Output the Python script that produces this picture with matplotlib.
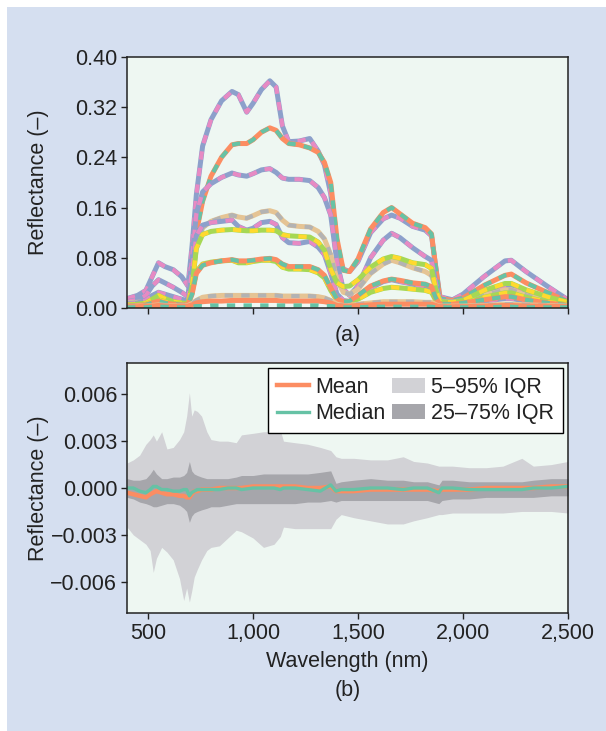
import matplotlib
matplotlib.use("Agg")
import matplotlib.pyplot as plt
from matplotlib.patches import Rectangle
from matplotlib.ticker import FuncFormatter

plt.rcParams['font.family'] = ['Liberation Sans', 'DejaVu Sans']

# --- (a) reflectance spectra: measured (solid) vs. reconstructed (dashed) ---
wl_a = [400, 450, 490, 520, 550, 580, 620, 660, 690, 710, 730, 760, 800, 850, 900, 930, 970,
        1000, 1040, 1080, 1110, 1140, 1170, 1220, 1270, 1310, 1340, 1370, 1400, 1430, 1460,
        1500, 1560, 1620, 1660, 1700, 1760, 1820, 1850, 1870, 1890, 1950, 2000, 2100, 2200,
        2230, 2300, 2400, 2500]

spec_1 = [.015, .020, .028, .050, .072, .066, .061, .050, .035, .100, .180, .258, .300, .330, .345, .340, .312,
          .326, .348, .362, .352, .290, .265, .266, .270, .250, .228, .182, .090, .062, .058,
          .074, .120, .142, .148, .143, .130, .124, .115, .066, .018, .013, .022, .050, .075,
          .076, .058, .035, .013]
spec_2 = [.005, .007, .010, .018, .024, .018, .013, .009, .008, .040, .120, .170, .210, .240, .260, .262, .262,
          .268, .280, .287, .283, .270, .262, .260, .255, .248, .232, .200, .110, .060, .058,
          .078, .126, .152, .160, .150, .135, .128, .118, .065, .015, .012, .016, .036, .052,
          .054, .040, .025, .010]
spec_3 = [.010, .013, .020, .035, .045, .040, .033, .025, .018, .080, .150, .185, .198, .208, .215, .212, .210,
          .214, .220, .222, .216, .207, .205, .205, .203, .192, .176, .148, .072, .030, .020,
          .035, .080, .108, .119, .112, .096, .082, .076, .040, .012, .010, .013, .026, .035,
          .035, .025, .015, .008]
spec_4 = [.008, .009, .010, .013, .016, .013, .011, .010, .010, .040, .095, .128, .138, .144, .148, .145, .143,
          .147, .153, .155, .152, .140, .132, .130, .129, .122, .110, .085, .045, .025, .022,
          .030, .055, .070, .076, .072, .064, .058, .052, .030, .010, .009, .011, .020, .029,
          .029, .020, .013, .007]
spec_5 = [.006, .008, .012, .020, .025, .022, .018, .014, .011, .060, .115, .132, .136, .138, .140, .130, .124,
          .127, .136, .138, .133, .112, .104, .103, .106, .097, .085, .055, .022, .012, .010,
          .017, .032, .042, .045, .042, .038, .034, .030, .015, .006, .006, .007, .011, .015,
          .015, .011, .007, .004]
spec_6 = [.005, .006, .008, .014, .020, .015, .010, .008, .007, .035, .095, .117, .122, .124, .125, .124, .123,
          .123, .124, .124, .123, .117, .115, .114, .113, .105, .092, .062, .040, .034, .035,
          .045, .065, .078, .082, .079, .072, .069, .063, .030, .010, .009, .012, .028, .039,
          .039, .029, .018, .009]
spec_7 = [.004, .005, .006, .010, .013, .010, .007, .006, .006, .025, .058, .070, .073, .075, .076, .072, .072,
          .074, .076, .076, .074, .065, .062, .062, .061, .056, .048, .028, .012, .009, .009,
          .014, .025, .031, .033, .032, .030, .028, .025, .012, .005, .005, .007, .017, .024,
          .024, .017, .010, .005]
spec_8 = [.003, .004, .005, .008, .011, .008, .006, .005, .005, .022, .055, .068, .072, .075, .077, .075, .075,
          .076, .078, .079, .077, .070, .066, .066, .066, .061, .052, .032, .014, .010, .011,
          .020, .035, .043, .046, .044, .040, .038, .034, .016, .006, .006, .008, .013, .018,
          .018, .013, .008, .004]
spec_9 = [.002, .003, .003, .004, .005, .004, .004, .004, .004, .007, .012, .017, .019, .020, .020, .020, .020,
          .020, .020, .020, .020, .019, .019, .019, .019, .018, .016, .012, .006, .004, .004,
          .006, .008, .010, .010, .010, .010, .009, .009, .005, .003, .003, .003, .004, .006,
          .006, .005, .004, .003]
spec_10 = [.002, .002, .003, .003, .004, .003, .003, .003, .003, .005, .008, .010, .011, .011, .012, .012, .012,
           .012, .012, .012, .012, .011, .011, .011, .011, .011, .010, .008, .004, .003, .003,
           .004, .005, .006, .006, .006, .006, .006, .006, .004, .002, .002, .002, .003, .004,
           .004, .003, .003, .002]
spec_11 = [.001, .001, .001, .002, .002, .002, .001, .001, .001, .002, .003, .003, .004, .004, .004, .004, .004,
           .004, .004, .004, .004, .004, .004, .004, .004, .004, .003, .003, .002, .001, .001,
           .001, .002, .002, .002, .002, .002, .002, .002, .001, .001, .001, .001, .001, .002,
           .002, .001, .001, .001]

spectra = [spec_1, spec_2, spec_3, spec_4, spec_5, spec_6, spec_7, spec_8, spec_9, spec_10, spec_11]

# Set2 colours (solid, dashed)
blue, pink = '#8da0cb', '#e78ac3'
orange, green = '#fc8d62', '#66c2a5'
lime, yellow = '#a6d854', '#ffd92f'
tan, grey = '#e5c494', '#b3b3b3'
pairs = [(blue, pink), (orange, green), (blue, pink), (tan, grey), (blue, pink),
         (lime, yellow), (lime, yellow), (orange, green), (tan, grey), (orange, None), (None, green)]

# --- (b) residual statistics ---
wl_b = [400, 430, 460, 490, 510, 525, 540, 565, 590, 620, 650, 670, 684, 697, 708, 720, 735, 755,
        780, 800, 840, 880, 920, 945, 1000, 1050, 1100, 1130, 1145, 1200, 1260, 1320, 1370, 1395,
        1420, 1480, 1560, 1640, 1715, 1765, 1830, 1885, 1900, 1950, 2030, 2110, 2190, 2280, 2335,
        2420, 2500]
p95 = [.0016, .0018, .0021, .0028, .0031, .0034, .0030, .0036, .0025, .0026, .0031, .0036, .0046, .0061,
       .0046, .0050, .0049, .0046, .0036, .0031, .0030, .0030, .0029, .0034, .0035, .0036, .0036, .0037,
       .0030, .0029, .0028, .0026, .0024, .0020, .0019, .0019, .0018, .0018, .0020, .0017, .0016, .0014,
       .0014, .0014, .0013, .0013, .0014, .0019, .0014, .0015, .0017]
p5 = [-.0025, -.0030, -.0033, -.0036, -.0040, -.0054, -.0045, -.0038, -.0041, -.0046, -.0058, -.0072,
      -.0064, -.0073, -.0066, -.0057, -.0052, -.0046, -.0040, -.0038, -.0037, -.0032, -.0027, -.0028,
      -.0032, -.0038, -.0036, -.0031, -.0025, -.0026, -.0026, -.0026, -.0026, -.0020, -.0017, -.0019,
      -.0021, -.0023, -.0023, -.0021, -.0019, -.0017, -.0017, -.0016, -.0016, -.0016, -.0016, -.0015,
      -.0015, -.0015, -.0016]
p75 = [.0006, .0005, .0005, .0006, .0009, .0012, .0009, .0006, .0006, .0007, .0007, .0008, .0010, .0017,
       .0011, .0009, .0008, .0007, .0006, .0006, .0006, .0006, .0007, .0008, .0008, .0009, .0009, .0009,
       .0009, .0009, .0009, .0010, .0011, .0003, .0004, .0005, .0006, .0005, .0005, .0004, .0004, .0002,
       .0005, .0005, .0004, .0004, .0004, .0004, .0005, .0006, .0006]
p25 = [-.0006, -.0007, -.0009, -.0010, -.0011, -.0012, -.0012, -.0011, -.0010, -.0010, -.0011, -.0013,
       -.0015, -.0022, -.0018, -.0016, -.0015, -.0014, -.0013, -.0012, -.0012, -.0011, -.0010, -.0010,
       -.0010, -.0010, -.0010, -.0010, -.0010, -.0010, -.0009, -.0009, -.0008, -.0009, -.0008, -.0008,
       -.0008, -.0008, -.0008, -.0008, -.0008, -.0010, -.0008, -.0007, -.0007, -.0006, -.0006, -.0006,
       -.0006, -.0005, -.0005]
res_mean = [-.0003, -.0004, -.0005, -.0006, -.0004, -.0003, -.0002, -.0003, -.0004, -.0004, -.0005, -.0005,
            -.0006, -.0006, -.0004, -.0002, -.0002, -.0001, -.0001, -.0001, .0000, .0000, .0000, .0000,
            .0001, .0001, .0001, .0001, .0001, .0001, .0000, .0000, .0001, -.0002, -.0002, -.0002,
            -.0001, -.0001, -.0001, -.0001, -.0001, -.0002, -.0001, -.0001, -.0001, .0000, .0000, .0000,
            .0000, .0001, .0001]
res_median = [.0000, .0000, -.0002, -.0003, -.0001, .0001, .0001, -.0001, -.0001, -.0002, -.0002, -.0001,
              -.0001, -.0005, -.0003, -.0002, -.0001, -.0001, -.0001, -.0001, -.0001, .0000, .0000, -.0001,
              .0000, .0000, .0000, -.0001, .0000, .0000, -.0001, -.0002, .0002, -.0002, -.0001, -.0001,
              .0000, .0000, -.0001, .0000, .0000, -.0003, .0000, .0000, -.0001, -.0001, -.0001, -.0001,
              .0000, .0000, .0001]

xticks = [500, 1000, 1500, 2000, 2500]
yticks_a = [0.0, 0.08, 0.16, 0.24, 0.32, 0.40]
yticks_b = [-0.006, -0.003, 0.0, 0.003, 0.006]

bg = '#d5dff0'
axbg = '#eef7f2'
txt = '#222222'
fs = 15.5

fig = plt.figure(figsize=(6.06, 7.31), dpi=100, facecolor='white')
fig.add_artist(Rectangle((7 / 606, 0), 1, 1 - 7 / 731, transform=fig.transFigure,
                         facecolor=bg, edgecolor='none', zorder=-10))

ax1 = fig.add_axes([0.2096, 0.5787, 0.7277, 0.3434])
ax2 = fig.add_axes([0.2096, 0.1614, 0.7277, 0.3420])

for s, (c_solid, c_dash) in zip(spectra, pairs):
    if c_solid:
        ax1.plot(wl_a, s, color=c_solid, lw=3.6, solid_capstyle='round', solid_joinstyle='round')
    if c_dash:
        ax1.plot(wl_a, s, color=c_dash, lw=3.0, linestyle=(0, (2, 2)))

ax1.set_xlim(400, 2500)
ax1.set_ylim(0, 0.40)
ax1.set_xticks(xticks)
ax1.set_xticklabels([])
ax1.set_yticks(yticks_a)
ax1.yaxis.set_major_formatter(FuncFormatter(lambda v, p: f'{v:.2f}'))
ax1.set_ylabel('Reflectance (\u2013)', fontsize=fs, color=txt)

ax2.fill_between(wl_b, p5, p95, color='#d2d2d6', lw=0, label='5\u201395% IQR')
ax2.fill_between(wl_b, p25, p75, color='#a6a6ab', lw=0, label='25\u201375% IQR')
ax2.plot(wl_b, res_mean, color=orange, lw=3.2, label='Mean')
ax2.plot(wl_b, res_median, color=green, lw=2.4, label='Median')

ax2.set_xlim(400, 2500)
ax2.set_ylim(-0.008, 0.008)
ax2.set_xticks(xticks)
ax2.xaxis.set_major_formatter(FuncFormatter(lambda v, p: f'{v:,.0f}'))
ax2.set_yticks(yticks_b)
ax2.yaxis.set_major_formatter(FuncFormatter(lambda v, p: f'{v:.3f}'.replace('-', '\u2212')))
ax2.set_ylabel('Reflectance (\u2013)', fontsize=fs, color=txt)
ax2.set_xlabel('Wavelength (nm)', fontsize=fs, color=txt, labelpad=5)

for ax in (ax1, ax2):
    ax.yaxis.set_label_coords(-0.178, 0.5)

handles, labels = ax2.get_legend_handles_labels()
order = [labels.index('Mean'), labels.index('Median'),
         labels.index('5\u201395% IQR'), labels.index('25\u201375% IQR')]
leg = ax2.legend([handles[i] for i in order], [labels[i] for i in order], ncol=2,
                 loc='upper right', fontsize=fs, frameon=True, fancybox=False, framealpha=1,
                 edgecolor='black', handlelength=1.5, handletextpad=0.3, columnspacing=0.3,
                 borderpad=0.4, labelspacing=0.25, borderaxespad=0.25)
leg.get_frame().set_linewidth(1.0)
for t in leg.get_texts():
    t.set_color(txt)

for ax in (ax1, ax2):
    ax.set_facecolor(axbg)
    for sp in ax.spines.values():
        sp.set_linewidth(1.1)
        sp.set_color('#222222')
    ax.tick_params(direction='out', length=4, width=1, labelsize=fs, colors=txt, pad=3)

fig.text(0.5741, 0.5417, '(a)', ha='center', va='center', fontsize=fs, color=txt)
fig.text(0.5741, 0.056, '(b)', ha='center', va='center', fontsize=fs, color=txt)

fig.savefig('out.png', dpi=100, facecolor=fig.get_facecolor())
